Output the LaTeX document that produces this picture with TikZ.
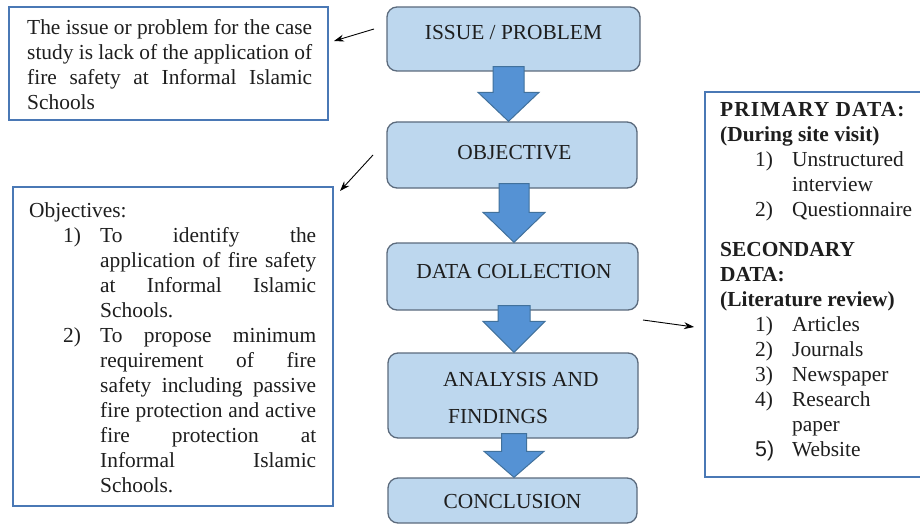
\documentclass[tikz,border=0pt]{standalone}
\usepackage{fontspec}
\setmainfont{Liberation Serif}
\newfontfamily\arialf{Liberation Sans}
\usetikzlibrary{arrows.meta,calc}
\definecolor{boxfill}{HTML}{BDD7EE}
\definecolor{boxline}{HTML}{5C6B7D}
\definecolor{arrfill}{HTML}{5592D4}
\definecolor{arrline}{HTML}{41719C}
\definecolor{frameline}{HTML}{4A78B5}
\definecolor{txt}{HTML}{1E1E1E}
\newcommand\blockarr[6]{%
  \draw[blockarrow] let \p1=(#1.south), \p2=(#2.north) in
  ({#3pt-#4pt},{\y1+5pt}) -- ({#3pt+#4pt},{\y1+5pt}) -- ({#3pt+#4pt},{\y2+#6pt})
  -- ({#3pt+#5pt},{\y2+#6pt}) -- ({#3pt},{\y2}) -- ({#3pt-#5pt},{\y2+#6pt})
  -- ({#3pt-#4pt},{\y2+#6pt}) -- cycle;}
\newcommand\jl[2]{\makebox[#1pt][s]{#2}}
\begin{document}
\begin{tikzpicture}[x=1pt,y=-1pt,
  base/.style={font=\fontsize{21.4}{25}\selectfont, text=txt, inner sep=0pt},
  flowbox/.style={draw=boxline, line width=1.3pt, fill=boxfill, rounded corners=10pt, inner sep=0pt},
  framebox/.style={draw=frameline, line width=1.4pt, fill=white, inner sep=0pt},
  thinarr/.style={draw=black, line width=0.9pt, -{Stealth[length=10pt,width=7pt]}},
  blockarrow/.style={fill=arrfill, draw=arrline, line width=1pt, line join=miter}
]
\useasboundingbox (0,0) rectangle (920,524);
\fill[white] (0,0) rectangle (920,524);

% centre flow boxes
\node[flowbox, minimum width=253pt, minimum height=64pt] (issue) at (513.5,39) {};
\node[flowbox, minimum width=250pt, minimum height=66pt] (objective) at (512,155) {};
\node[flowbox, minimum width=251pt, minimum height=67pt] (data) at (512.5,276.5) {};
\node[flowbox, minimum width=250pt, minimum height=85pt] (analysis) at (513,395.5) {};
\node[flowbox, minimum width=249pt, minimum height=45pt] (conclusion) at (512.5,500.5) {};

\node[base] (issuetxt) at (513.5,33) {ISSUE / PROBLEM};
\node[base] (objtxt) at (514.5,153) {OBJECTIVE};
\node[base] (datatxt) at (514,272) {DATA COLLECTION};
\node[base, anchor=west, align=left] (anatxt) at (443,398.5) {ANALYSIS AND\\[12pt]\hspace*{5pt}FINDINGS};
\node[base] (contxt) at (512.5,502) {CONCLUSION};

% block arrows
\blockarr{issue}{objective}{508.5}{15.5}{30.5}{29}
\blockarr{objective}{data}{514}{15}{31}{30}
\blockarr{data}{analysis}{514}{16}{31}{31}
\blockarr{analysis}{conclusion}{514}{12.5}{30}{26}

% side text boxes
\node[framebox, minimum width=319pt, minimum height=113pt] (issuebox) at (168.5,63.5) {};
\node[base, anchor=west, align=left] (issuebody) at (27,64.5) {%
\jl{285}{The issue or problem for the case}\\
\jl{285}{study is lack of the application of}\\
\jl{285}{fire safety at Informal Islamic}\\
Schools};

\node[framebox, minimum width=320pt, minimum height=319pt] (objbox) at (173,346.5) {};
\node[base, anchor=west, align=left] (objbody) at (29,348) {%
Objectives:\\
\hspace*{34pt}\makebox[37pt][l]{1)}\jl{216}{To identify the}\\
\hspace*{71pt}\jl{216}{application of fire safety}\\
\hspace*{71pt}\jl{216}{at Informal Islamic}\\
\hspace*{71pt}Schools.\\
\hspace*{34pt}\makebox[37pt][l]{2)}\jl{216}{To propose minimum}\\
\hspace*{71pt}\jl{216}{requirement of fire}\\
\hspace*{71pt}\jl{216}{safety including passive}\\
\hspace*{71pt}\jl{216}{fire protection and active}\\
\hspace*{71pt}\jl{216}{fire protection at}\\
\hspace*{71pt}\jl{216}{Informal Islamic}\\
\hspace*{71pt}Schools.};

\node[framebox, minimum width=217pt, minimum height=385pt] (databox) at (813.5,284.5) {};
\node[base, anchor=west, align=left] (databody) at (720,282) {%
{\bfseries\addfontfeature{LetterSpace=5}PRIMARY DATA:}\\
\textbf{(During site visit)}\\
\hspace*{35pt}\makebox[37pt][l]{1)}Unstructured\\
\hspace*{72pt}interview\\
\hspace*{35pt}\makebox[37pt][l]{2)}Questionnaire\\[15pt]
\textbf{SECONDARY}\\
\textbf{DATA:}\\
\textbf{(Literature review)}\\
\hspace*{35pt}\makebox[37pt][l]{1)}Articles\\
\hspace*{35pt}\makebox[37pt][l]{2)}Journals\\
\hspace*{35pt}\makebox[37pt][l]{3)}Newspaper\\
\hspace*{35pt}\makebox[37pt][l]{4)}Research\\
\hspace*{72pt}paper\\
\hspace*{35pt}\makebox[37pt][l]{{\arialf 5)}}Website};

% thin pointer arrows
\coordinate (p1s) at (374,29);
\coordinate (p1e) at (334,41);
\coordinate (p2s) at (373,155);
\coordinate (p2e) at (340,191);
\coordinate (p3s) at (643,320);
\coordinate (p3e) at (694,327);
\draw[thinarr] (p1s) -- (p1e);
\draw[thinarr] (p2s) -- (p2e);
\draw[thinarr] (p3s) -- (p3e);
\end{tikzpicture}
\end{document}
